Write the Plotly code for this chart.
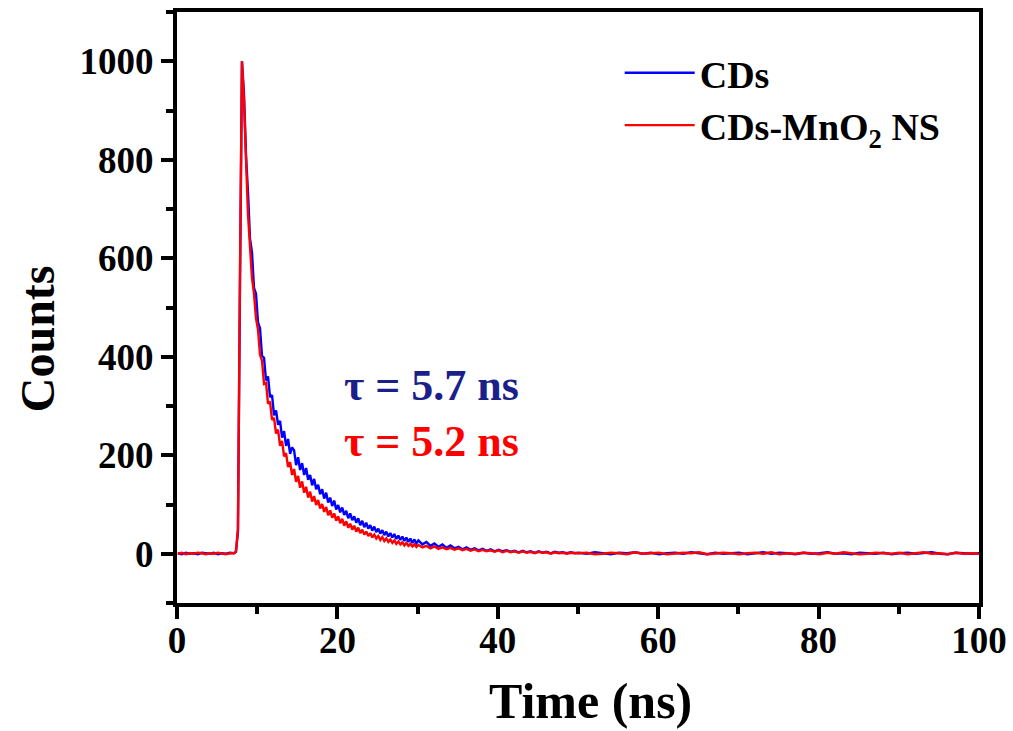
import numpy as np
import plotly.graph_objects as go

# ---- time-resolved PL decay data (counts vs time, ns) ----
# baseline before excitation (0.1 .. 6.6 ns, 0.5 ns channels)
cds_pre = [1, -1, 2, 0, 1, -1, 2, 1, 0, 2, -1, 1, 0, 2]
mno2_pre = [0, 2, -1, 1, 0, 2, 1, -1, 1, 0, 2, 0, -1, 1]

# rising edge and peak
t_rise = [7.1, 7.35, 7.6, 7.85, 8.1]
cds_rise = [1, 4, 45, 540, 1000]
mno2_rise = [1, 5, 50, 560, 1000]

# decay, 0.25 ns channels starting at 8.35 ns
cds_decay = [
    935, 810, 735, 640, 612, 540, 528, 470, 458, 402, 398, 352, 360, 318, 322,
    281, 291, 262, 270, 236, 249, 219, 233, 203, 216, 210, 180, 196, 170, 184,
    160, 174, 150, 160, 139, 152, 131, 140, 121, 131, 112, 124, 104, 114, 97,
    108, 90, 99, 84, 94, 79, 87, 72, 82, 68, 76, 63, 72, 58, 67,
    54, 63, 51, 58, 47, 55, 44, 51, 41, 48, 38, 45, 35, 42, 33,
    40, 30, 37, 28, 35, 26, 33, 24, 31, 22, 29, 21,
]
mno2_decay = [
    920, 785, 690, 625, 560, 528, 478, 455, 404, 392, 345, 347, 305, 309, 272,
    276, 244, 252, 219, 229, 198, 204, 176, 186, 160, 172, 146, 158, 134, 147,
    124, 136, 114, 126, 106, 117, 99, 109, 92, 101, 85, 95, 78, 88, 73,
    82, 67, 76, 62, 71, 57, 66, 53, 61, 49, 57, 45, 53, 42, 49,
    39, 45, 36, 42, 33, 39, 31, 36, 28, 34, 26, 31, 24, 29, 22,
    27, 20, 25, 19, 23, 17, 22, 16, 20, 15, 19, 14,
]

# tail, 0.5 ns channels starting at 30.1 ns
cds_tail = [
    27, 19, 24, 16, 21, 14, 19, 12, 17, 11, 14, 9, 13, 8, 11, 7, 10, 6, 9, 5,
    8, 5, 7, 4, 6, 3, 6, 3, 5, 2, 5, 2, 4, 1, 4, 2, 3, 1, 3, 1,
]
mno2_tail = [
    18, 13, 16, 11, 15, 10, 13, 9, 12, 8, 11, 7, 10, 6, 9, 5, 8, 5, 7, 4,
    7, 3, 6, 3, 5, 2, 5, 2, 4, 1, 4, 2, 3, 0, 3, 1, 2, 0, 2, 1,
]

# background, 1 ns channels starting at 50.1 ns
cds_bg = [
    2, 0, 3, 1, -1, 2, 1, 3, 0, 2, -1, 1, 2, 0, 3, 1, -1, 2, 0, 1,
    2, -1, 1, 3, 0, 2, 1, -1, 2, 0, 1, 3, 0, 1, -1, 2, 1, 0, 2, -1,
    1, 2, 0, 1, 3, 0, -1, 2, 1, 0, 1,
]
mno2_bg = [
    1, 2, -1, 0, 2, 1, -1, 3, 0, 1, 2, -1, 0, 2, 1, 3, -1, 0, 2, 1,
    -1, 1, 2, 0, 3, -1, 1, 0, 2, 1, -1, 2, 0, 3, 1, -1, 0, 2, 1, 0,
    2, -1, 1, 3, 0, 1, -1, 2, 0, 1, 0,
]

series_names = ["CDs", "CDs-MnO<sub>2</sub> NS"]
series_colors = ["#0000ff", "#ff0000"]
lifetimes = ["τ = 5.7 ns", "τ = 5.2 ns"]
lifetime_colors = ["#1b1f8a", "#ff0000"]

# channel time grids
t_pre = list(0.1 + 0.5 * np.arange(len(cds_pre)))
t_decay = list(8.35 + 0.25 * np.arange(len(cds_decay)))
t_tail = list(30.1 + 0.5 * np.arange(len(cds_tail)))
t_bg = list(50.1 + 1.0 * np.arange(len(cds_bg)))
t_all = t_pre + t_rise + t_decay + t_tail + t_bg

cds = cds_pre + cds_rise + cds_decay + cds_tail + cds_bg
mno2 = mno2_pre + mno2_rise + mno2_decay + mno2_tail + mno2_bg

FONT = "Liberation Serif"

fig = go.Figure()
for ys, name, col in zip([cds, mno2], series_names, series_colors):
    fig.add_trace(go.Scatter(
        x=t_all, y=ys, mode="lines", name=name,
        line=dict(color=col, width=2.4),
    ))

for txt, col, yv in zip(lifetimes, lifetime_colors, [342, 228]):
    fig.add_annotation(
        x=20.6, y=yv, xref="x", yref="y", xanchor="left", yanchor="middle",
        text=txt, showarrow=False,
        font=dict(family=FONT, size=44, color=col, weight="bold"),
    )

# axis titles
fig.add_annotation(
    x=-0.1746, y=0.448, xref="paper", yref="paper",
    xanchor="center", yanchor="middle", textangle=-90,
    text="Counts", showarrow=False,
    font=dict(family=FONT, size=48, color="black", weight="bold"),
)
fig.add_annotation(
    x=0.515, y=-0.166, xref="paper", yref="paper",
    xanchor="center", yanchor="middle",
    text="Time (ns)", showarrow=False,
    font=dict(family=FONT, size=50, color="black", weight="bold"),
)

axis_common = dict(
    showline=True, linewidth=4, linecolor="black", mirror=True,
    ticks="outside", ticklen=12, tickwidth=4, tickcolor="black",
    showgrid=False, zeroline=False, automargin=False,
    tickfont=dict(family=FONT, size=37, color="black", weight="bold"),
)

fig.update_xaxes(
    range=[0, 100], tick0=0, dtick=20, ticklabelstandoff=-10,
    minor=dict(ticks="outside", dtick=10, ticklen=7, tickwidth=4, tickcolor="black"),
    **axis_common,
)
fig.update_yaxes(
    range=[-100, 1100], tick0=0, dtick=200,
    minor=dict(ticks="outside", dtick=100, ticklen=7, tickwidth=4, tickcolor="black"),
    **axis_common,
)

fig.update_layout(
    width=1013, height=731,
    margin=dict(l=177, r=34, t=12, b=128),
    paper_bgcolor="white", plot_bgcolor="white",
    legend=dict(
        x=0.552, y=0.95, xanchor="left", yanchor="top",
        bgcolor="rgba(0,0,0,0)", itemwidth=70,
        font=dict(family=FONT, size=38, color="black", weight="bold"),
        tracegroupgap=0,
    ),
)

fig.write_html("out.html")
